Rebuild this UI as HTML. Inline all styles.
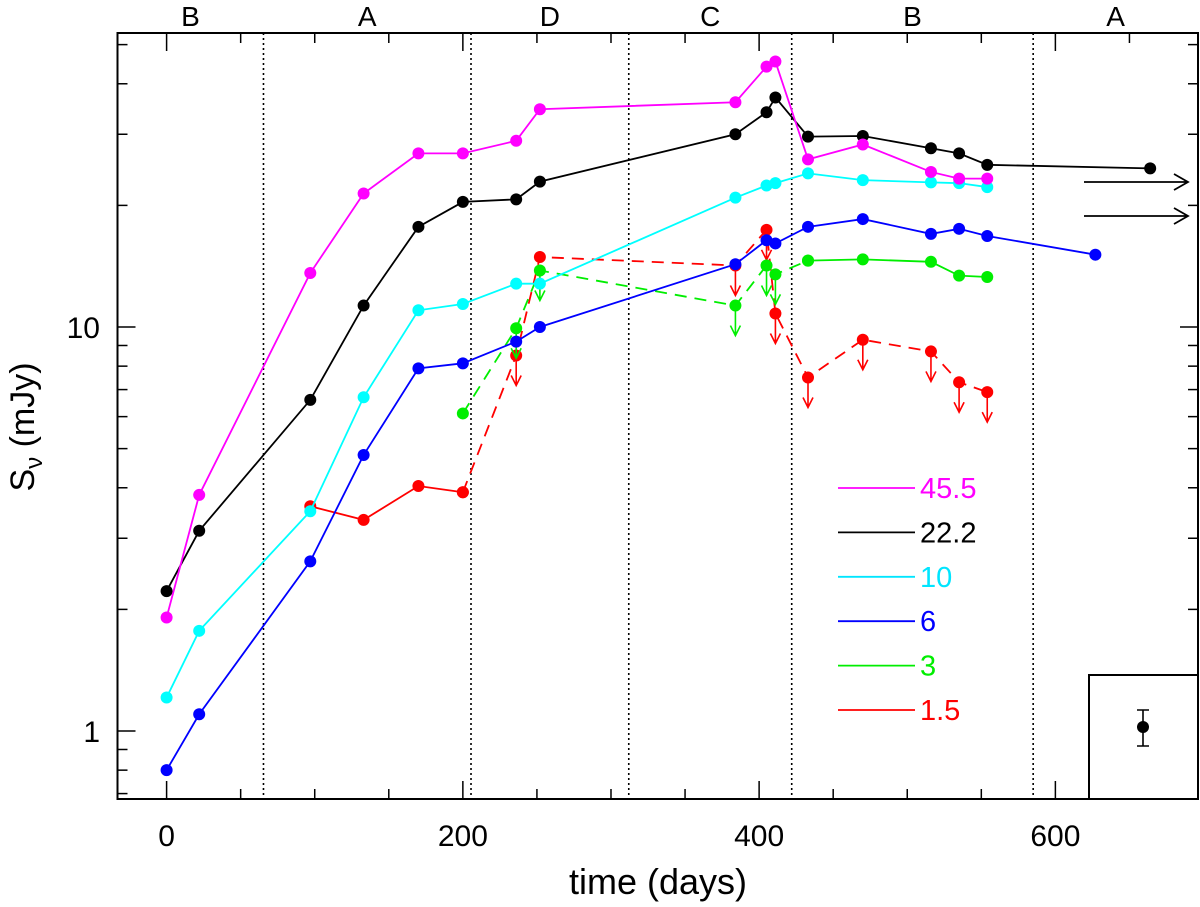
<!DOCTYPE html>
<html><head><meta charset="utf-8"><style>
html,body{margin:0;padding:0;background:#fff;}
svg{display:block;font-family:"Liberation Sans",sans-serif;}
</style></head><body>
<svg id="chart" width="1200" height="907" viewBox="0 0 1200 907" xmlns="http://www.w3.org/2000/svg">
<g id="grid"></g>
<g id="axes"></g>
<g id="series"></g>
<g id="legend"></g>
<g id="extras"></g>
</svg>
<script>
const days = [0,22,97,133,170,200,236,252,384,405,411,433,470,516,535,554];
const mag455 = [1.91,3.84,13.6,21.4,26.9,26.9,28.9,34.6,36.0,44.1,45.4,26.0,28.3,24.2,23.3,23.3];
const days222 = [0,22,97,133,170,200,236,252,384,405,411,433,470,516,535,554,664];
const val222 = [2.22,3.13,6.6,11.3,17.7,20.4,20.7,22.9,30.0,34.0,37.0,29.6,29.7,27.7,26.9,25.2,24.7];
const val10 = [1.21,1.77,3.50,6.7,11.0,11.4,12.8,12.8,20.9,22.4,22.7,24.0,23.1,22.8,22.7,22.2];
const days6 = [0,22,97,133,170,200,236,252,384,405,411,433,470,516,535,554,627];
const val6 = [0.80,1.10,2.63,4.82,7.9,8.13,9.2,10.0,14.3,16.4,16.1,17.7,18.5,17.0,17.5,16.8,15.1];
const days3dash = [200,236,252,384,405,411,433];
const val3dash = [6.11,9.93,13.8,11.3,14.2,13.5,14.6];
const days3solid = [433,470,516,535,554];
const val3solid = [14.6,14.7,14.5,13.4,13.3];
const up3 = [false,true,true,true,true,true,false];
const days15solid = [97,133,170,200];
const val15solid = [3.6,3.33,4.04,3.9];
const days15dash = [200,236,252,384,405,411,433,470,516,535,554];
const val15dash = [3.9,8.5,14.9,14.2,17.4,10.8,7.5,9.3,8.7,7.3,6.9];
const up15 = [false,true,false,true,true,true,true,true,true,true,true];
const epochDays = [65.4,205.5,312,422,585];
const epochLabels = ["B","A","D","C","B","A"];
const xTicks = [0,200,400,600];
const yTicks = [1,10];
const legendLabels = ["45.5","22.2","10","6","3","1.5"];
const legendColors = ["#ff00ff","#000000","#00e5ff","#0000ff","#00ee00","#ff0000"];

const L=117.5,R=1198,T=33,B=799;
const X=d=>166.6+1.4813*d;
const Y=v=>731-404*Math.log10(v);
const NS="http://www.w3.org/2000/svg";
function mk(tag,attrs,parent){const e=document.createElementNS(NS,tag);for(const k in attrs)e.setAttribute(k,attrs[k]);parent.appendChild(e);return e;}
const gG=document.getElementById('grid'),gA=document.getElementById('axes'),gS=document.getElementById('series'),gL=document.getElementById('legend'),gE=document.getElementById('extras');

// epoch separators
epochDays.forEach(d=>{const l=mk('line',{x1:X(d),x2:X(d),y1:T,y2:B,stroke:'#000','stroke-width':1.6,'stroke-dasharray':'2,3'},gG);

});
const bounds=[L,...epochDays.map(X),R];
epochLabels.forEach((s,i)=>{const t=mk('text',{x:(bounds[i]+bounds[i+1])/2,y:26,'text-anchor':'middle','font-size':28,fill:'#000'},gA);t.textContent=s;

});

// frame
const fr=mk('rect',{x:L,y:T,width:R-L,height:B-T,fill:'none',stroke:'#000','stroke-width':2},gA);


// x ticks
for(let d=0;d<=700;d+=50){const x=X(d);if(x>R)break;const len=(d%200===0)?18:10;
mk('line',{x1:x,x2:x,y1:B,y2:B-len,stroke:'#000','stroke-width':1.5},gA);
mk('line',{x1:x,x2:x,y1:T,y2:T+len,stroke:'#000','stroke-width':1.5},gA);}
xTicks.forEach(d=>{const t=mk('text',{x:X(d),y:846,'text-anchor':'middle','font-size':30,fill:'#000'},gA);t.textContent=d;

});
// y ticks
[0.7,0.8,0.9,1,2,3,4,5,6,7,8,9,10,20,30,40,50].forEach(v=>{const y=Y(v);const len=(v===1||v===10)?18:10;
mk('line',{x1:L,x2:L+len,y1:y,y2:y,stroke:'#000','stroke-width':1.5},gA);
mk('line',{x1:R,x2:R-len,y1:y,y2:y,stroke:'#000','stroke-width':1.5},gA);});
yTicks.forEach(v=>{const t=mk('text',{x:100,y:Y(v)+11,'text-anchor':'end','font-size':30,fill:'#000'},gA);t.textContent=v;

});
const xt=mk('text',{x:658,y:894,'text-anchor':'middle','font-size':36,fill:'#000'},gA);xt.textContent='time (days)';


const yt=mk('text',{x:0,y:0,'text-anchor':'middle','font-size':34,fill:'#000',transform:'translate(34,427) rotate(-90)'},gA);
yt.innerHTML='S<tspan font-size="24" dy="8">ν</tspan><tspan dy="-8"> (mJy)</tspan>';



function series(ds,vs,color,dashed,name,dots){
 const pts=ds.map((d,i)=>X(d)+','+Y(vs[i])).join(' ');
 const p=mk('polyline',{points:pts,fill:'none',stroke:color,'stroke-width':1.8,'stroke-dasharray':dashed?'12,8':'none'},gS);
 
 
 if(dots!==false) ds.forEach((d,i)=>{const c=mk('circle',{cx:X(d),cy:Y(vs[i]),r:6,fill:color},gS);
 
 });
}
function arrows(ds,vs,flags,color,name){
 ds.forEach((d,i)=>{if(!flags[i])return;const x=X(d),y=Y(vs[i]);
 const a=mk('path',{d:`M${x},${y} V${y+30} M${x-5},${y+20} L${x},${y+30} L${x+5},${y+20}`,fill:'none',stroke:color,'stroke-width':1.6},gS);
 
 });
}
series(days15solid,val15solid,'#ff0000',false,'series-1-5ghz');
series(days15dash,val15dash,'#ff0000',true,'series-1-5ghz-limits');
arrows(days15dash,val15dash,up15,'#ff0000','series-1-5ghz');
series(days3dash,val3dash,'#00ee00',true,'series-3ghz-limits');
series(days3solid,val3solid,'#00ee00',false,'series-3ghz');
arrows(days3dash,val3dash,up3,'#00ee00','series-3ghz');
series(days6,val6,'#0000ff',false,'series-6ghz');
series(days,val10,'#00ffff',false,'series-10ghz');
series(days222,val222,'#000000',false,'series-22ghz');
series(days,mag455,'#ff00ff',false,'series-45ghz');

// legend
legendLabels.forEach((s,i)=>{const y=488+44.4*i;
 const l=mk('line',{x1:838,x2:915,y1:y,y2:y,stroke:legendColors[i],'stroke-width':1.8},gL);
 
 
 const t=mk('text',{x:920,y:y+10,'font-size':29,fill:legendColors[i]},gL);t.textContent=s;
 
 });

// right-pointing arrows
[182,216].forEach(y=>{const a=mk('path',{d:`M1084,${y} H1188 M1174,${y-8} L1188,${y} L1174,${y+8}`,fill:'none',stroke:'#000','stroke-width':1.8},gE);

});
// inset box with error bar
const ib=mk('rect',{x:1089,y:675,width:R-1089,height:B-675,fill:'#fff',stroke:'#000','stroke-width':2},gE);


const eb=mk('path',{d:'M1143,710 V746 M1137,710 H1149 M1137,746 H1149',fill:'none',stroke:'#000','stroke-width':1.6},gE);


const ed=mk('circle',{cx:1143,cy:727,r:6,fill:'#000'},gE);


</script>
</body></html>
